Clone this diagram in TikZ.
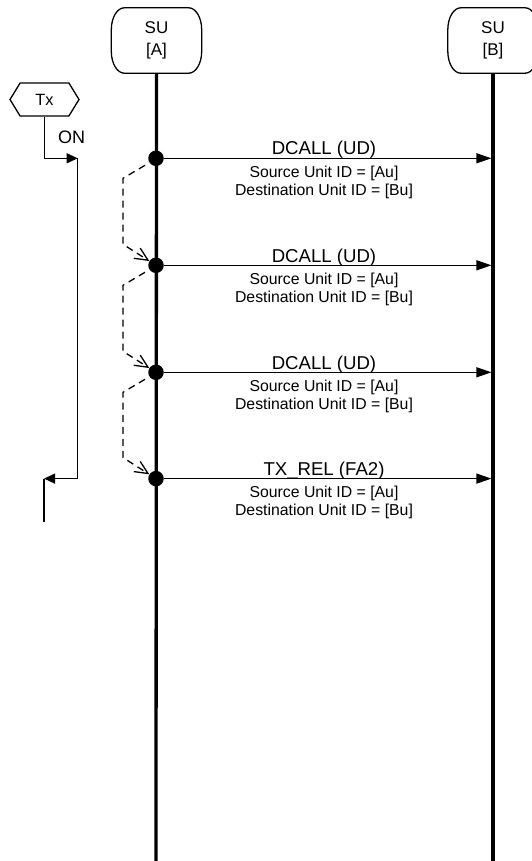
\documentclass[tikz,border=0pt]{standalone}
\usepackage{fontspec}
\setmainfont{Liberation Sans}
\usetikzlibrary{arrows.meta,shapes.symbols,calc}
\newcommand{\myboxoutline}[1]{%
  \draw[boxline] ([xshift=13pt]#1.north west) -- ([xshift=-13pt]#1.north east)
    arc[start angle=90, end angle=0, x radius=13pt, y radius=22pt]
    -- ([yshift=22pt]#1.south east)
    arc[start angle=0, end angle=-90, x radius=13pt, y radius=22pt]
    -- ([xshift=13pt]#1.south west)
    arc[start angle=270, end angle=180, x radius=13pt, y radius=22pt]
    -- ([yshift=-22pt]#1.north west)
    arc[start angle=180, end angle=90, x radius=13pt, y radius=22pt]
    -- cycle;}
\begin{document}
\begin{tikzpicture}[x=1pt,y=-1pt,
  lifebox/.style={minimum width=90pt, minimum height=65pt, align=center, inner sep=0pt, font=\fontsize{17}{21.5}\selectfont},
  boxline/.style={line width=1.3pt},
  lifeline/.style={line width=3.3pt},
  dotnode/.style={circle, fill=black, minimum size=15.5pt, inner sep=0pt},
  msg/.style={line width=1.3pt, -{Triangle[length=15pt,width=10pt]}, shorten >=1.6pt},
  msgtitle/.style={anchor=base, inner sep=0pt, font=\fontsize{18.6}{22}\selectfont},
  msgdetail/.style={anchor=base, inner sep=0pt, font=\fontsize{15.8}{18}\selectfont},
  loopback/.style={line width=1.3pt, dash pattern=on 7pt off 5pt, -{Straight Barb[length=13pt,width=12pt]}},
  timer/.style={line width=1.3pt},
  timerarrow/.style={timer, -{Triangle[length=11pt,width=10pt]}},
  hexbox/.style={draw, line width=1.3pt, signal, signal to=east and west, signal pointer angle=117, minimum width=69pt, minimum height=33pt, inner sep=0pt, font=\fontsize{16.3}{20}\selectfont},
]
\useasboundingbox (0,0) rectangle (532,861);

% lifelines
\node[lifebox] (suA) at (156.5,40.5) {SU\\{[A]}};
\node[lifebox] (suB) at (493,40.5) {SU\\{[B]}};
\myboxoutline{suA}
\myboxoutline{suB}
\coordinate (endA) at (156,861);
\coordinate (endB) at (493,861);
\draw[lifeline] (suA.south) -- (endA);
\draw[lifeline] (suB.south) -- (endB);

% messages
\foreach \i/\y/\t in {1/158.3/DCALL (UD), 2/265.3/DCALL (UD), 3/372.3/DCALL (UD), 4/478.6/TX\_REL (FA2)}{
  \node[dotnode] (d\i) at (156,\y) {};
  \coordinate (b\i) at (493,\y);
  \draw[msg] (d\i) -- (b\i);
  \node[msgtitle] (t\i) at (324,\y-3.3) {\t};
  \node[msgdetail] (s\i) at (324,\y+19) {Source Unit ID = [Au]};
  \node[msgdetail] (e\i) at (324,\y+36.7) {Destination Unit ID = [Bu]};
}

% dashed repeat connectors
\foreach \i/\j in {1/2,2/3,3/4}{
  \draw[loopback] ($(d\i)+(-11,7)$) -- ($(d\i)+(-33,20)$) -- ($(d\j)+(-33,-21)$) -- (d\j);
}

% Tx timer
\node[hexbox] (tx) at (44.5,99.5) {Tx};
\node[anchor=base west, inner sep=0pt, font=\fontsize{18}{22}\selectfont] (on) at (58,144) {ON};
\coordinate (bartop) at (77.7,158.3);
\coordinate (barbot) at (77.7,478.6);
\coordinate (rel) at (44,478.6);
\coordinate (relend) at (44,522);
\draw[timerarrow] (tx.south) |- (bartop);
\draw[timer] (bartop) -- (barbot);
\draw[timerarrow] (barbot) -- (rel);
\draw[timer] (rel) -- (relend);
\end{tikzpicture}
\end{document}
